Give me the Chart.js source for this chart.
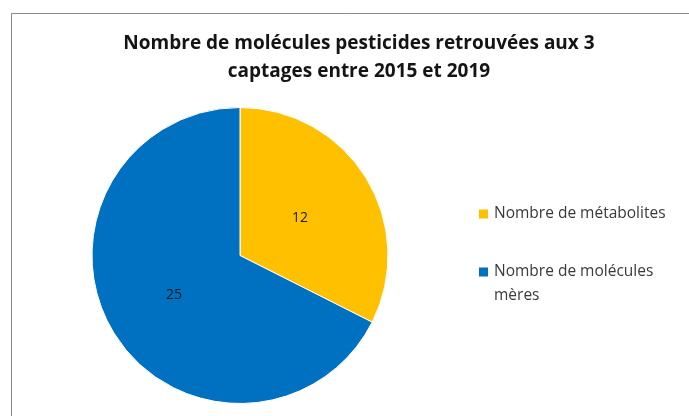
<!DOCTYPE html>
<html>
<head>
<meta charset="utf-8">
<script src="https://cdn.jsdelivr.net/npm/chart.js@4/dist/chart.umd.min.js"></script>
<style>
  html, body { margin: 0; padding: 0; background: #ffffff; }
  #wrap { position: relative; width: 689px; height: 416px; }
</style>
</head>
<body>
<div id="wrap"><canvas id="c"></canvas></div>
<script>
// ---- data ----
const titleLines = ['Nombre de molécules pesticides retrouvées aux 3', 'captages entre 2015 et 2019'];
const categories = ['Nombre de métabolites', 'Nombre de molécules mères'];
const values = [12, 25];
const colors = ['#FFC000', '#0070C0'];

const FONT = '"Open Sans", "Liberation Sans", sans-serif';

const framePlugin = {
  id: 'frame',
  beforeDraw(chart) {
    const ctx = chart.ctx;
    ctx.save();
    ctx.fillStyle = '#ffffff';
    ctx.fillRect(0, 0, chart.width, chart.height);
    ctx.strokeStyle = '#8a8a8a';
    ctx.lineWidth = 1;
    ctx.beginPath();
    ctx.moveTo(11.5, chart.height + 2);
    ctx.lineTo(11.5, 13.5);
    ctx.lineTo(chart.width + 2, 13.5);
    ctx.stroke();
    ctx.restore();
  }
};

const titlePlugin = {
  id: 'customTitle',
  afterDraw(chart) {
    const ctx = chart.ctx;
    ctx.save();
    ctx.fillStyle = '#141414';
    ctx.font = 'bold 19px ' + FONT;
    ctx.textAlign = 'center';
    ctx.textBaseline = 'middle';
    titleLines.forEach((t, i) => ctx.fillText(t, 359, 44 + i * 28));
    ctx.restore();
  }
};

const valueLabelPlugin = {
  id: 'valueLabels',
  afterDatasetsDraw(chart) {
    const ctx = chart.ctx;
    const meta = chart.getDatasetMeta(0);
    ctx.save();
    ctx.fillStyle = '#1a1a1a';
    ctx.font = '14px ' + FONT;
    ctx.textAlign = 'center';
    ctx.textBaseline = 'middle';
    meta.data.forEach((arc, i) => {
      const p = arc.getProps(['x', 'y', 'startAngle', 'endAngle', 'outerRadius'], true);
      const mid = (p.startAngle + p.endAngle) / 2;
      const r = p.outerRadius * 0.5;
      ctx.fillText(String(chart.data.datasets[0].data[i]), p.x + Math.cos(mid) * r - 3, p.y + Math.sin(mid) * r + 1);
    });
    ctx.restore();
  }
};

const legendPlugin = {
  id: 'customLegend',
  afterDraw(chart) {
    const ctx = chart.ctx;
    ctx.save();
    ctx.font = '15.5px ' + FONT;
    ctx.textBaseline = 'middle';
    ctx.textAlign = 'left';
    const boxX = 479, textX = 494, maxW = 180;
    const ys = [214, 272];
    chart.data.labels.forEach((label, i) => {
      const words = label.split(' ');
      const lines = [];
      let cur = '';
      words.forEach(w => {
        const test = cur ? cur + ' ' + w : w;
        if (ctx.measureText(test).width > maxW && cur) { lines.push(cur); cur = w; }
        else cur = test;
      });
      if (cur) lines.push(cur);
      ctx.fillStyle = chart.data.datasets[0].backgroundColor[i];
      ctx.fillRect(boxX, ys[i] - 4.5, 9, 9);
      ctx.fillStyle = '#3a3a3a';
      lines.forEach((ln, j) => ctx.fillText(ln, textX, ys[i] + j * 24));
    });
    ctx.restore();
  }
};

new Chart(document.getElementById('c'), {
  type: 'pie',
  data: {
    labels: categories,
    datasets: [{
      data: values,
      backgroundColor: colors,
      borderColor: '#ffffff',
      borderWidth: 1
    }]
  },
  options: {
    responsive: true,
    maintainAspectRatio: false,
    animation: false,
    layout: { padding: { left: 91, right: 300, top: 107, bottom: 12 } },
    plugins: {
      legend: { display: false },
      title: { display: false },
      tooltip: { enabled: false }
    }
  },
  plugins: [framePlugin, titlePlugin, valueLabelPlugin, legendPlugin]
});
</script>
</body>
</html>
